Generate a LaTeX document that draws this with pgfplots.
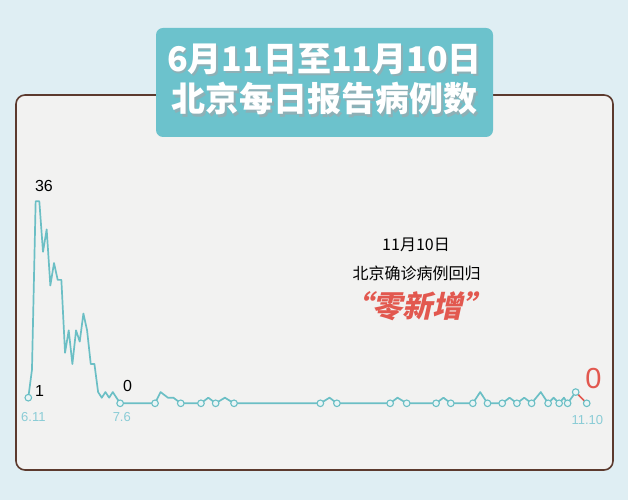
\documentclass[border=0pt]{standalone}
\usepackage{pgfplots}
\pgfplotsset{compat=1.18}
\usepackage{pgfplotstable}
\usepackage{fontspec}
\setmainfont{Liberation Sans}
\newfontfamily\cjk{Noto Sans CJK SC}
\newfontfamily\cjkslant{Noto Sans CJK SC}[FakeSlant=0.22]

\definecolor{bgblue}{HTML}{DFEEF3}
\definecolor{panel}{HTML}{F2F2F1}
\definecolor{frame}{HTML}{5C3A2E}
\definecolor{badge}{HTML}{6CC2CC}
\definecolor{teal}{HTML}{6BBFC5}
\definecolor{circfill}{HTML}{EAF5F6}
\definecolor{datelab}{HTML}{8ACCD6}
\definecolor{zero}{HTML}{E2584F}
\definecolor{shade}{HTML}{5E8E96}

% day 0 = 6.11, day 152 = 11.10
\pgfplotstableread{
day cases
0 1
1 6
2 36
3 36
4 27
5 31
6 21
7 25
8 22
9 22
10 9
11 13
12 7
13 13
14 11
15 16
16 13
17 7
18 7
19 2
20 1
21 2
22 1
23 2
24 1
25 0
34.5 0
36 2
38 1
39.5 1
41.5 0
47 0
49 1
51 0
53.5 1
56 0
79.5 0
82 1
84 0
98.5 0
100.5 1
103 0
111 0
113 1
115 0
121 0
123 2
125 0
129 0
131 1
133 0
135 1
137 0
139.5 2
141.5 0
143 1
144.5 0
145.8 1
146.8 0
149 2
}\daily

\pgfplotstableread{
day cases
0 1
25 0
34.5 0
41.5 0
47 0
51 0
56 0
79.5 0
84 0
98.5 0
103 0
111 0
115 0
121 0
125 0
129 0
133 0
137 0
141.5 0
144.5 0
146.8 0
149 2
152 0
}\marked

% white title text with a soft drop shadow, in one box
\newcommand\shadowed[1]{\rlap{\hspace{1.8pt}\raisebox{-2.2pt}{\textcolor{shade!70}{#1}}}\textcolor{white}{#1}}

\begin{document}
\begin{tikzpicture}[x=1pt,y=1pt]
% background and panel
\fill[bgblue] (0,0) rectangle (628,500);
\filldraw[fill=panel, draw=frame, line width=1.6pt, rounded corners=9pt] (16,30) rectangle (613,405);

\begin{axis}[
    at={(28.3pt,96.7pt)}, anchor=south west,
    scale only axis, width=558.4pt, height=202pt,
    xmin=0, xmax=152, ymin=0, ymax=36,
    hide axis, clip=false,
]
\addplot[teal, line width=1.7pt, line join=round, mark=none] table[x=day, y=cases] {\daily};
\addplot[zero, line width=1.7pt, mark=none] coordinates {(149,2) (152,0)};
\addplot[only marks, mark=*, mark size=3.3pt,
    mark options={fill=circfill, draw=teal, line width=1.1pt}] table[x=day, y=cases] {\marked};
\end{axis}

% value labels
\node[font=\fontsize{16}{16}\selectfont] at (44,314) {36};
\node[font=\fontsize{16}{16}\selectfont] at (39.5,109) {1};
\node[font=\fontsize{16}{16}\selectfont] at (127.5,114) {0};
\node[font=\fontsize{29}{29}\selectfont, text=zero] at (593.5,121.5) {0};
% date labels
\node[font=\fontsize{13}{13}\selectfont, text=datelab] at (33.4,83.3) {6.11};
\node[font=\fontsize{13}{13}\selectfont, text=datelab] at (121.8,83) {7.6};
\node[font=\fontsize{13}{13}\selectfont, text=datelab] at (587.4,80) {11.10};

% annotation
\node[font=\cjk\fontsize{16}{16}\selectfont] at (416,255) {11月10日};
\node[font=\cjk\fontsize{16}{16}\selectfont] at (416.7,226.7) {北京确诊病例回归};
\node[font=\cjkslant\bfseries\fontsize{30}{30}\selectfont, text=zero] at (417.5,194) {“零新增”};

% title badge
\fill[badge, rounded corners=7pt] (156,363) rectangle (493,472);
\node[font=\cjk\bfseries\fontsize{34}{34}\selectfont] at (324.5,440) {\shadowed{6月11日至11月10日}};
\node[font=\cjk\bfseries\fontsize{34}{34}\selectfont] at (324.5,400) {\shadowed{北京每日报告病例数}};
\end{tikzpicture}
\end{document}
